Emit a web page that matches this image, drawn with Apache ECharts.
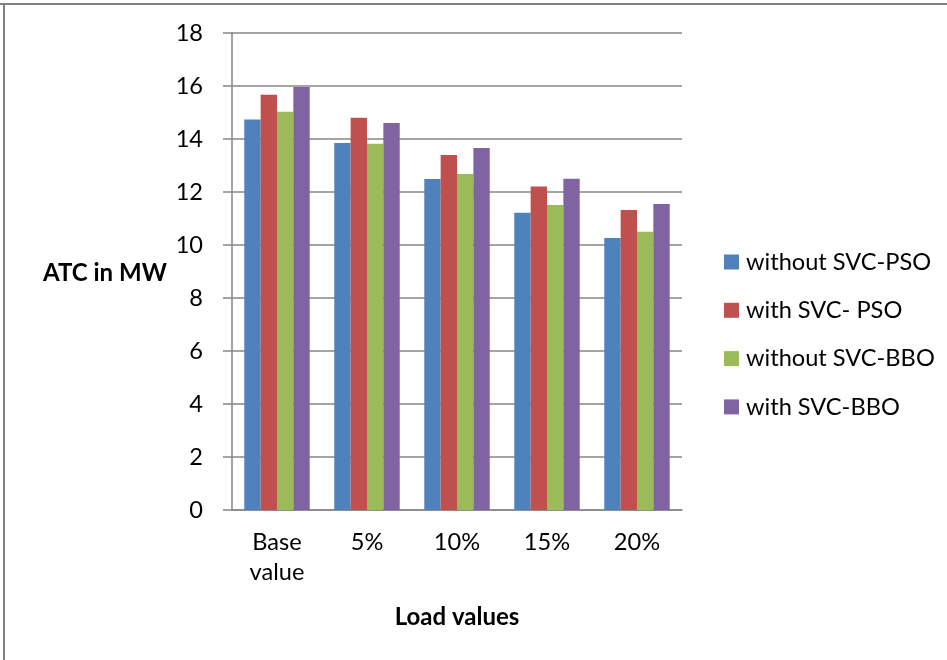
<!DOCTYPE html>
<html><head><meta charset="utf-8">
<script src="https://cdn.jsdelivr.net/npm/echarts@6/dist/echarts.min.js"></script>
<style>html,body{margin:0;padding:0;background:#fff}#c{width:947px;height:660px}</style>
</head><body><div id="c"></div>
<script>
const categories = ['Base\nvalue', '5%', '10%', '15%', '20%'];
const seriesNames = ['without SVC-PSO', 'with SVC- PSO', 'without SVC-BBO', 'with SVC-BBO'];
const withoutSvcPso = [14.74, 13.85, 12.49, 11.22, 10.26];
const withSvcPso = [15.67, 14.80, 13.40, 12.21, 11.32];
const withoutSvcBbo = [15.03, 13.82, 12.68, 11.51, 10.50];
const withSvcBbo = [15.96, 14.60, 13.66, 12.50, 11.55];
const yTicks = [0, 2, 4, 6, 8, 10, 12, 14, 16, 18];
const colors = ['#4F81BD', '#C0504D', '#9BBB59', '#8064A2'];
const values = [withoutSvcPso, withSvcPso, withoutSvcBbo, withSvcBbo];
const FONT = 'Lato';
const FS = 23.6;

const chart = echarts.init(document.getElementById('c'), null, {renderer: 'canvas'});
chart.setOption({
  animation: false,
  backgroundColor: '#fff',
  textStyle: {fontFamily: FONT, color: '#000'},
  grid: {left: 232, right: 265, top: 33, bottom: 150, containLabel: false},
  legend: {
    orient: 'vertical', left: 724, top: 250, itemGap: 24.3, itemWidth: 15, itemHeight: 15,
    icon: 'rect', padding: 0,
    textStyle: {fontFamily: FONT, fontSize: FS, lineHeight: 24, color: '#000', padding: [0, 0, 0, 2]},
    data: seriesNames
  },
  xAxis: {
    type: 'category', data: categories,
    name: 'Load values', nameLocation: 'middle', nameGap: 95,
    nameTextStyle: {fontFamily: FONT, fontSize: 24, fontWeight: 'bold', color: '#000'},
    axisLine: {lineStyle: {color: '#868686', width: 1.5}},
    axisTick: {show: false},
    axisLabel: {fontFamily: FONT, fontSize: FS, color: '#000', margin: 17, lineHeight: 30}
  },
  yAxis: {
    type: 'value', min: 0, max: 18, interval: 2,
    axisLine: {show: true, lineStyle: {color: '#868686', width: 1.5}},
    axisTick: {show: true, length: 9, lineStyle: {color: '#868686', width: 1.5}},
    axisLabel: {fontFamily: FONT, fontSize: FS, color: '#000', margin: 29,
      formatter: v => yTicks.includes(v) ? String(v) : ''},
    splitLine: {lineStyle: {color: '#868686', width: 1.5}}
  },
  graphic: [
    {type: 'line', shape: {x1: 0, y1: 4, x2: 947, y2: 4}, style: {stroke: '#808080', lineWidth: 2}},
    {type: 'line', shape: {x1: 4, y1: 4, x2: 4, y2: 660}, style: {stroke: '#808080', lineWidth: 2}},
    {type: 'text', x: 43, y: 273, style: {text: 'ATC in MW', font: 'bold 24px ' + FONT, fill: '#000', textVerticalAlign: 'middle'}}
  ],
  series: seriesNames.map((n, i) => ({
    name: n, type: 'bar', data: values[i],
    barGap: '0%', barCategoryGap: '27.3%',
    itemStyle: {color: colors[i]}
  }))
});
</script></body></html>
